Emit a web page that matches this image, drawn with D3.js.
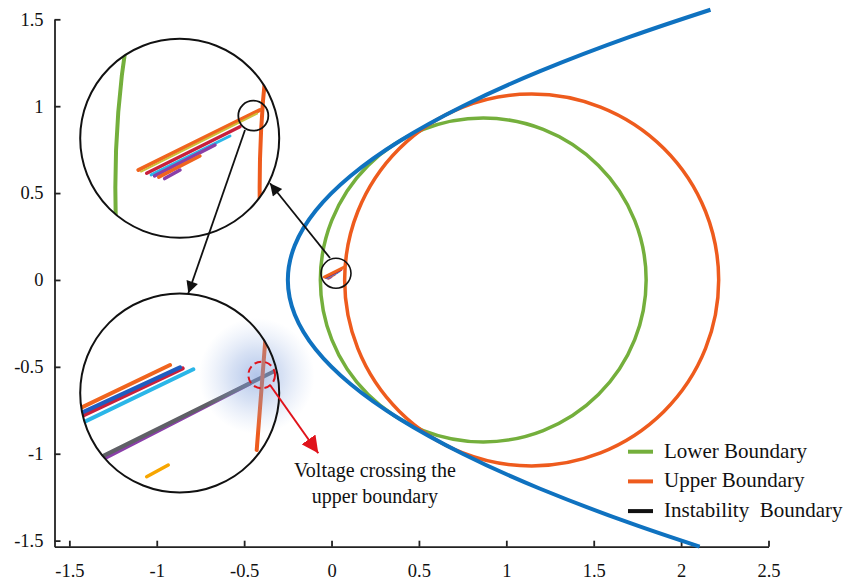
<!DOCTYPE html>
<html>
<head>
<meta charset="utf-8">
<title>Voltage boundaries</title>
<script src="https://d3js.org/d3.v7.min.js"></script>
<style>
  body { margin: 0; background: #fff; }
  text { font-family: "Liberation Serif", "Times New Roman", serif; fill: #111; }
</style>
</head>
<body>
<div id="chart"></div>
<script>
// tick values
var xTicks = [-1.5, -1, -0.5, 0, 0.5, 1, 1.5, 2, 2.5];
var yTicks = [-1.5, -1, -0.5, 0, 0.5, 1, 1.5];

// boundary circles (centre on real axis, radius)
var lowerBoundary = {cx: 0.868, cy: 0, r: 0.932};
var upperBoundary = {cx: 1.145, cy: 0, r: 1.07};

// instability boundary, points
var instY = [-1.535, -1.4, -1.2, -1.0, -0.8, -0.6, -0.4, -0.2, 0, 0.2, 0.4, 0.6, 0.8, 1.0, 1.2, 1.4, 1.555];
var instX = [2.106, 1.71, 1.19, 0.75, 0.39, 0.11, -0.09, -0.21, -0.25, -0.21, -0.09, 0.11, 0.39, 0.75, 1.19, 1.71, 2.168];

// voltage traces near the origin (data units)
var traceIds = ["t1", "t2", "t3", "t4", "t5", "t6", "t7"];
var traceStart = [[-0.0418, 0.0173], [-0.0392, 0.0158], [-0.0338, 0.0141], [-0.0295, 0.0126],
                  [-0.0262, 0.0116], [-0.0222, 0.0104], [-0.0165, 0.0090]];
var traceEnd = [[0.0753, 0.0754], [0.0725, 0.0720], [0.0560, 0.0592], [0.0464, 0.0502],
                [0.0320, 0.0415], [0.0175, 0.0308], [-0.0017, 0.0173]];

// second magnification, traces in lens units (-1..1)
var detailIds = ["orange", "crimson", "blue", "cyan", "purple", "gray", "gold", "boundary"];
var detailStart = [[-1.1, -0.201], [-1.1, -0.288], [-1.1, -0.252], [-1.1, -0.359],
                   [-0.95, -0.755], [-0.95, -0.722], [-0.332, -0.841], [0.862, 0.55]];
var detailEnd = [[-0.097, 0.281], [0.030, 0.248], [0.003, 0.258], [0.137, 0.238],
                 [0.707, 0.097], [0.94, 0.214], [-0.115, -0.724], [0.774, -0.573]];

// zoom windows (data centre + magnification)
var lens1 = {cx: -0.002, cy: 0.048, zoom: 5.94};
var mark0 = [0.0255, 0.0383];   // marked spot on main plot
var mark1 = [0.0689, 0.0699];   // marked spot inside first lens
var crossing = [0.824, 0.181];  // voltage crossing, lens-2 units

// arrows (main data units) and labels
var arrowFrom = [[-0.0088, 0.1264], [-0.4951, 0.8630]];
var arrowTo = [[-0.3521, 0.5562], [-0.8195, -0.0768]];
var redArrow = [[0.908, 0.080], [1.393, -0.606]];
var legendLabels = ["Lower Boundary", "Upper Boundary", "Instability  Boundary"];
var noteLines = ["Voltage crossing the", "upper boundary"];

var W = 845, H = 583;
var serif = "'Liberation Serif', 'Times New Roman', serif";
var cGreen = "#74af3c", cOrange = "#ee5b1d", cBlue = "#0f72c0";

var svg = d3.select("#chart").append("svg")
  .attr("width", W).attr("height", H);

var defs = svg.append("defs");

var x = d3.scaleLinear().domain([-1.585, 2.5]).range([54.5, 768.5]);
var y = d3.scaleLinear().domain([-1.535, 1.5]).range([546.7, 19.3]);

// axes, ticks pointing inward
var gx = svg.append("g")
  .attr("transform", "translate(0," + y(-1.535) + ")")
  .call(d3.axisBottom(x).tickValues(xTicks).tickSizeInner(-6).tickSizeOuter(0)
    .tickPadding(17).tickFormat(function(d) { return String(d); }));
var gy = svg.append("g")
  .attr("transform", "translate(" + x(-1.585) + ",0)")
  .call(d3.axisLeft(y).tickValues(yTicks).tickSizeInner(-6).tickSizeOuter(0)
    .tickPadding(11).tickFormat(function(d) { return String(d); }));
[gx, gy].forEach(function(g) {
  g.attr("font-size", 18.5).attr("font-family", serif);
  g.selectAll("path, line").attr("stroke", "#222").attr("stroke-width", 1.8);
  g.selectAll("text").attr("fill", "#111");
});

// boundary circles
function ellipse(g, c, sx, sy, col, w) {
  g.append("ellipse")
    .attr("cx", sx(c.cx)).attr("cy", sy(c.cy))
    .attr("rx", sx(c.cx + c.r) - sx(c.cx))
    .attr("ry", sy(c.cy) - sy(c.cy + c.r))
    .attr("fill", "none").attr("stroke", col).attr("stroke-width", w);
}
ellipse(svg, lowerBoundary, x, y, cGreen, 3.5);
ellipse(svg, upperBoundary, x, y, cOrange, 3.5);

var inst = instY.map(function(v, i) { return [instX[i], v]; });
svg.append("path")
  .attr("d", d3.line().x(function(d) { return x(d[0]); }).y(function(d) { return y(d[1]); })
    .curve(d3.curveNatural)(inst))
  .attr("fill", "none").attr("stroke", cBlue).attr("stroke-width", 4);

var traceColor = d3.scaleOrdinal().domain(traceIds)
  .range(["#f0641e", "#cdbf3a", "#c8203c", "#2bb6e8", "#8a3fa8", "#f0641e", "#8a3fa8"]);
var traceWidth = d3.scaleOrdinal().domain(traceIds).range([4, 2, 3.5, 3, 3.5, 3.5, 3.5]);

function drawTraces(g, sx, sy, wScale, order) {
  order.forEach(function(i) {
    var id = traceIds[i];
    g.append("line")
      .attr("x1", sx(traceStart[i][0])).attr("y1", sy(traceStart[i][1]))
      .attr("x2", sx(traceEnd[i][0])).attr("y2", sy(traceEnd[i][1]))
      .attr("stroke", traceColor(id)).attr("stroke-width", traceWidth(id) * wScale)
      .attr("stroke-linecap", "round");
  });
}
// on the main plot the long orange trace sits on top
drawTraces(svg, x, y, 0.7, [6, 5, 4, 3, 2, 1, 0]);

// marker on the main plot
svg.append("circle").attr("cx", x(mark0[0])).attr("cy", y(mark0[1])).attr("r", 15)
  .attr("fill", "none").attr("stroke", "#111").attr("stroke-width", 1.6);

// magnified scale around a data point
function lensScale(base, c, zoom, pc) {
  var b = base(c);
  return d3.scaleLinear().domain(base.domain())
    .range(base.range().map(function(r) { return pc + (r - b) * zoom; }));
}

var L1 = {px: 179.7, py: 138.3, r: 99.5};
var L2 = {px: 179.7, py: 393, r: 99.5};

[["clip1", L1], ["clip2", L2]].forEach(function(p) {
  defs.append("clipPath").attr("id", p[0]).append("circle")
    .attr("cx", p[1].px).attr("cy", p[1].py).attr("r", p[1].r);
});

// first lens
var xT = lensScale(x, lens1.cx, lens1.zoom, L1.px);
var yT = lensScale(y, lens1.cy, lens1.zoom, L1.py);
svg.append("circle").attr("cx", L1.px).attr("cy", L1.py).attr("r", L1.r).attr("fill", "#fff");
var g1 = svg.append("g").attr("clip-path", "url(#clip1)");
ellipse(g1, lowerBoundary, xT, yT, cGreen, 4);
ellipse(g1, upperBoundary, xT, yT, cOrange, 4);
drawTraces(g1, xT, yT, 1, [0, 1, 2, 3, 4, 5, 6]);
svg.append("circle").attr("cx", xT(mark1[0])).attr("cy", yT(mark1[1])).attr("r", 15)
  .attr("fill", "none").attr("stroke", "#111").attr("stroke-width", 1.8);
svg.append("circle").attr("cx", L1.px).attr("cy", L1.py).attr("r", L1.r)
  .attr("fill", "none").attr("stroke", "#111").attr("stroke-width", 2);

// second lens
var u = d3.scaleLinear().domain([-1, 1]).range([L2.px - L2.r, L2.px + L2.r]);
var v = d3.scaleLinear().domain([-1, 1]).range([L2.py + L2.r, L2.py - L2.r]);
var detailColor = d3.scaleOrdinal().domain(detailIds)
  .range(["#f0641e", "#c8203c", "#1f5cc0", "#2bb6e8", "#8a3fa8", "#5f6066", "#f7a600", "#ee5b1d"]);
svg.append("circle").attr("cx", L2.px).attr("cy", L2.py).attr("r", L2.r).attr("fill", "#fff");
var g2 = svg.append("g").attr("clip-path", "url(#clip2)");
detailIds.forEach(function(id, i) {
  g2.append("line")
    .attr("x1", u(detailStart[i][0])).attr("y1", v(detailStart[i][1]))
    .attr("x2", u(detailEnd[i][0])).attr("y2", v(detailEnd[i][1]))
    .attr("stroke", detailColor(id)).attr("stroke-width", id === "gold" ? 3.5 : 4)
    .attr("stroke-linecap", "round");
});

// glow over the crossing
var gcx = u(crossing[0] - 0.05), gcy = v(crossing[1] - 0.01);
var grad = defs.append("radialGradient").attr("id", "glow")
  .attr("gradientUnits", "userSpaceOnUse")
  .attr("cx", gcx).attr("cy", gcy).attr("r", 58);
grad.append("stop").attr("offset", "0").attr("stop-color", "#7396d8").attr("stop-opacity", 0.55);
grad.append("stop").attr("offset", "0.45").attr("stop-color", "#86a5de").attr("stop-opacity", 0.33);
grad.append("stop").attr("offset", "1").attr("stop-color", "#a6bde8").attr("stop-opacity", 0);
svg.append("circle").attr("cx", gcx).attr("cy", gcy).attr("r", 58)
  .attr("fill", "url(#glow)");

svg.append("circle").attr("cx", L2.px).attr("cy", L2.py).attr("r", L2.r)
  .attr("fill", "none").attr("stroke", "#111").attr("stroke-width", 2);

svg.append("circle").attr("cx", u(crossing[0])).attr("cy", v(crossing[1]))
  .attr("r", u(0.134) - u(0))
  .attr("fill", "none").attr("stroke", "#e0131b").attr("stroke-width", 2)
  .attr("stroke-dasharray", "7,4");

// arrow heads
function marker(id, col, len, wid) {
  defs.append("marker").attr("id", id)
    .attr("viewBox", "0 0 10 10").attr("refX", 10).attr("refY", 5)
    .attr("markerUnits", "userSpaceOnUse")
    .attr("markerWidth", len).attr("markerHeight", wid)
    .attr("orient", "auto")
    .append("path").attr("d", "M0,0L10,5L0,10z").attr("fill", col);
}
marker("headK", "#111", 15, 12);
marker("headR", "#e0131b", 17, 17);

arrowFrom.forEach(function(f, i) {
  svg.append("line")
    .attr("x1", x(f[0])).attr("y1", y(f[1]))
    .attr("x2", x(arrowTo[i][0])).attr("y2", y(arrowTo[i][1]))
    .attr("stroke", "#111").attr("stroke-width", 1.8)
    .attr("marker-end", "url(#headK)");
});
svg.append("line")
  .attr("x1", u(redArrow[0][0])).attr("y1", v(redArrow[0][1]))
  .attr("x2", u(redArrow[1][0])).attr("y2", v(redArrow[1][1]))
  .attr("stroke", "#e0131b").attr("stroke-width", 2)
  .attr("marker-end", "url(#headR)");

// annotation
noteLines.forEach(function(t, i) {
  svg.append("text")
    .attr("x", x(0.248)).attr("y", y(-1.135) + i * 26)
    .attr("text-anchor", "middle").attr("font-size", 20)
    .text(t);
});

// legend
var legendColor = [cGreen, cOrange, "#111"];
legendLabels.forEach(function(t, i) {
  var ly = 451.7 + i * 29.7;
  svg.append("line").attr("x1", 628).attr("x2", 653).attr("y1", ly).attr("y2", ly)
    .attr("stroke", legendColor[i]).attr("stroke-width", 4);
  svg.append("text").attr("x", 664).attr("y", ly + 6)
    .attr("font-size", 21).style("white-space", "pre")
    .text(t);
});
</script>
</body>
</html>
